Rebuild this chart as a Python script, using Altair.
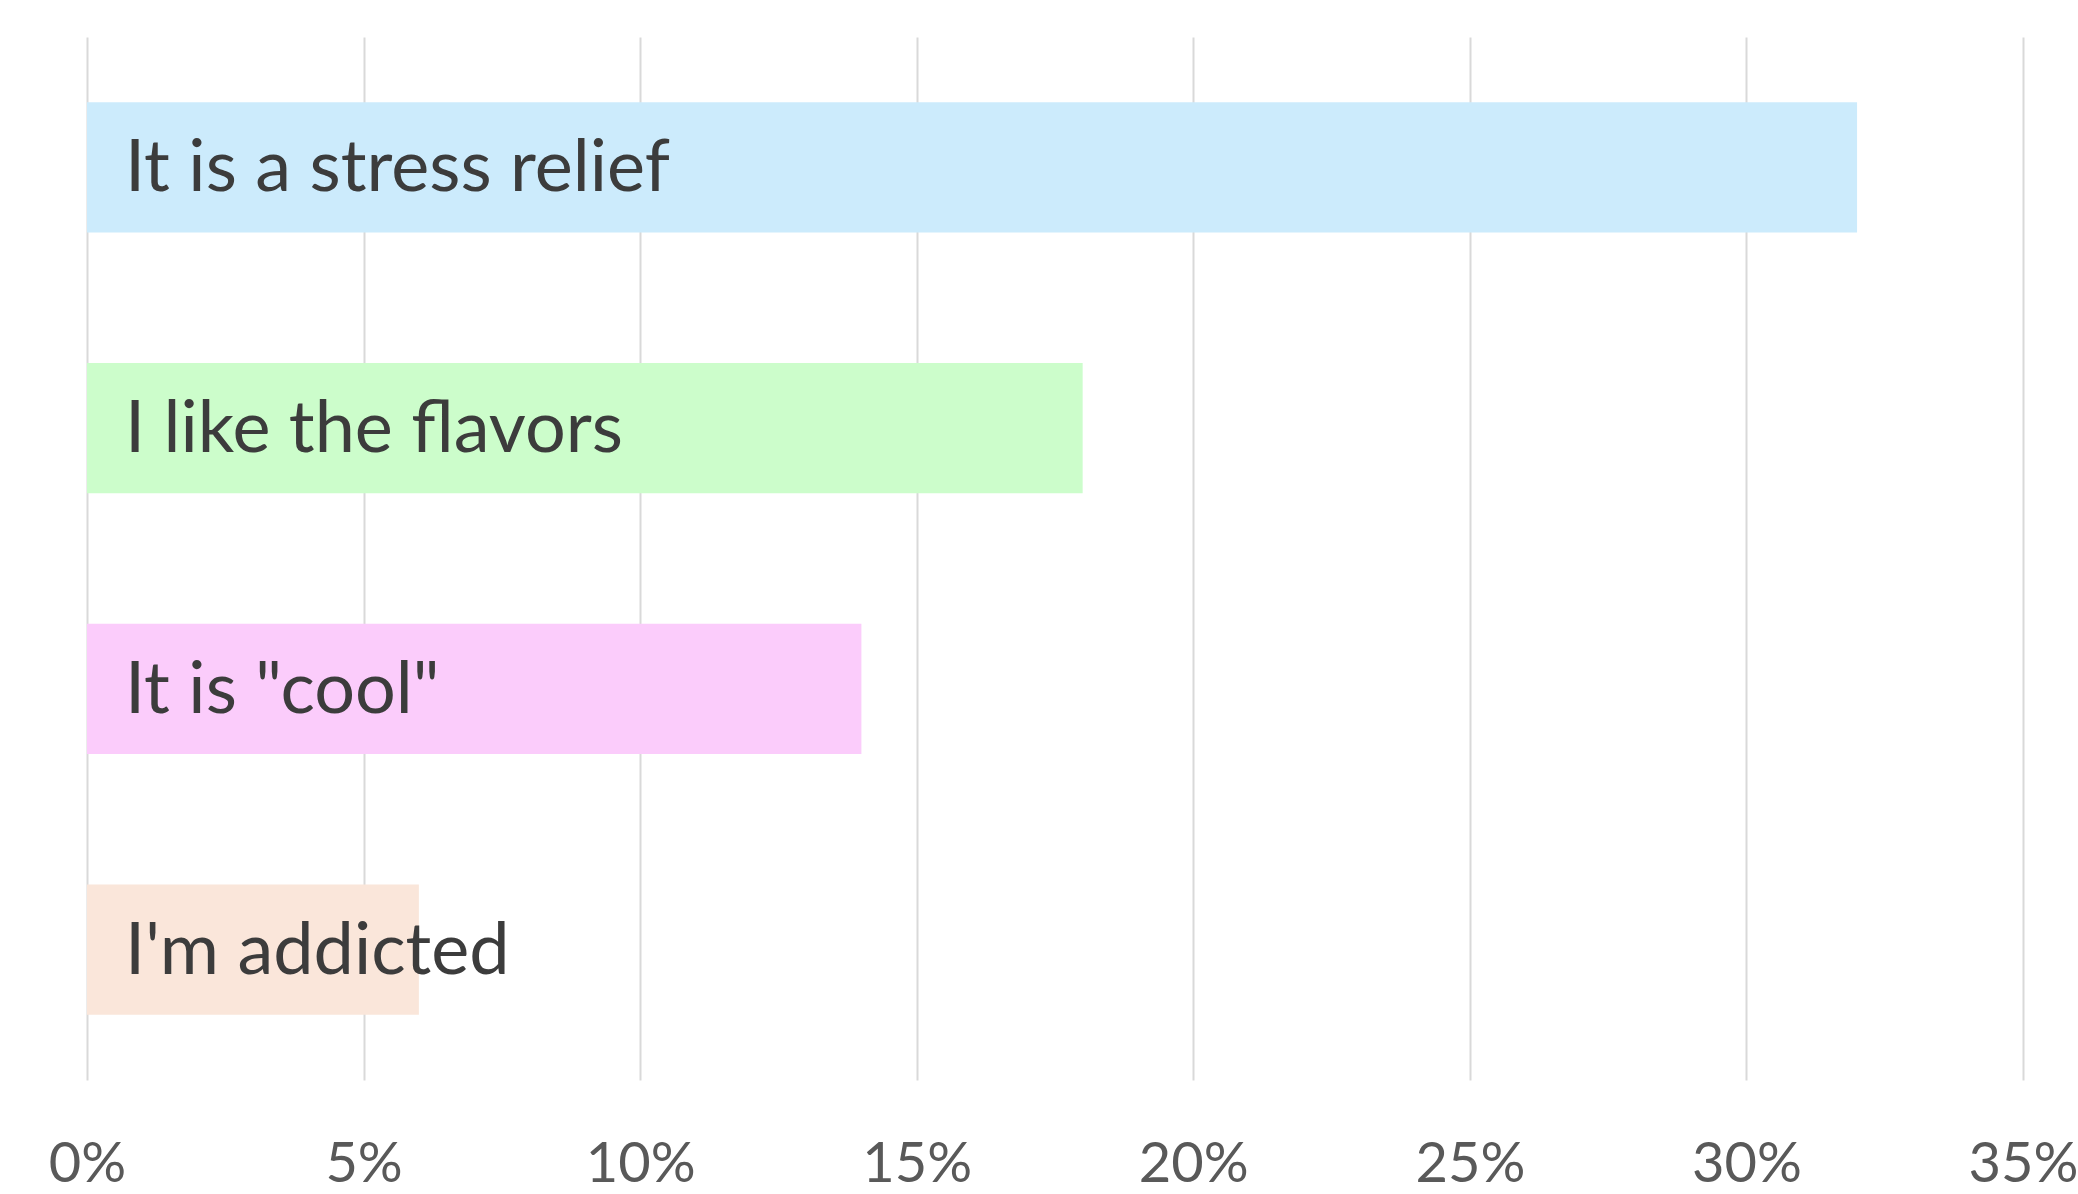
import altair as alt
import pandas as pd

categories = ["It is a stress relief", "I like the flavors", 'It is "cool"', "I'm addicted"]
values = [0.32, 0.18, 0.14, 0.06]
colors = ["#CCEBFC", "#CCFDCB", "#FBCCFB", "#FAE6DA"]
tick_values = [0, 0.05, 0.10, 0.15, 0.20, 0.25, 0.30, 0.35]

df = pd.DataFrame({"reason": categories, "share": values, "color": colors})

x = alt.X("share:Q", scale=alt.Scale(domain=[0, 0.35], nice=False),
          axis=alt.Axis(values=tick_values, format=".0%", title=None, domain=False,
                        ticks=False, grid=True, gridColor="#d9d9d9", gridWidth=2,
                        labelFont="Lato", labelFontSize=56, labelColor="#595959",
                        labelPadding=57, labelFlush=False))
y = alt.Y("reason:N", sort=categories,
          scale=alt.Scale(paddingInner=0.5, paddingOuter=0.25),
          axis=None)

bars = alt.Chart(df).mark_bar(cornerRadius=0).encode(
    x=x, y=y, color=alt.Color("color:N", scale=None)
)

labels = alt.Chart(df).mark_text(align="left", baseline="middle", dx=38, dy=2,
                                 font="Lato", fontSize=72, color="#3c3c3c").encode(
    x=alt.datum(0), y=y, text="reason:N"
)

chart = alt.layer(bars, labels).properties(
    width=1936, height=1043,
    autosize=alt.AutoSizeParams(type="none"),
    padding={"left": 87, "top": 37, "right": 55, "bottom": 114},
    background="white",
).configure_view(stroke=None)

chart.save("out.html", embed_options={"renderer": "svg", "actions": False})
